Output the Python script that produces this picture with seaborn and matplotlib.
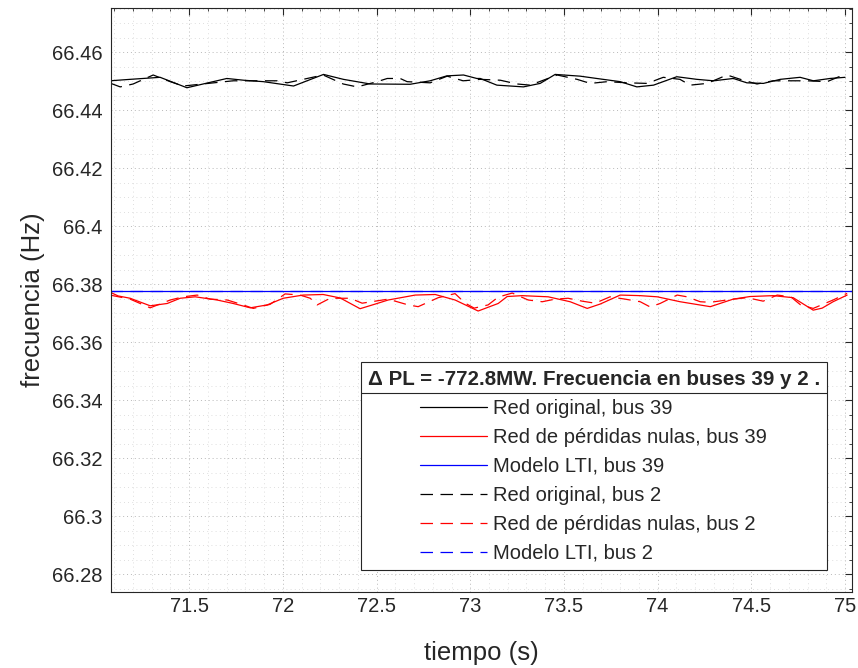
import numpy as np
import pandas as pd
import seaborn as sns
import matplotlib
matplotlib.use("Agg")
import matplotlib.pyplot as plt
from matplotlib.ticker import MultipleLocator, FuncFormatter
from matplotlib.lines import Line2D

# bus 39, red original (black solid)
t_orig39 = [71.078, 71.185, 71.345, 71.488, 71.701, 71.790, 71.896, 72.057, 72.217, 72.323,
            72.466, 72.679, 72.786, 72.875, 72.964, 73.035, 73.053, 73.142, 73.284, 73.373,
            73.453, 73.586, 73.675, 73.800, 73.889, 73.978, 74.102, 74.209, 74.298, 74.404,
            74.476, 74.564, 74.654, 74.760, 74.831, 74.920, 75.000]
f_orig39 = [66.4501, 66.4506, 66.4513, 66.4477, 66.4509, 66.4503, 66.4498, 66.4483, 66.4523, 66.4506,
            66.4490, 66.4489, 66.4501, 66.4518, 66.4521, 66.4509, 66.4509, 66.4486, 66.4480, 66.4492,
            66.4523, 66.4517, 66.4509, 66.4498, 66.4480, 66.4486, 66.4515, 66.4506, 66.4501, 66.4509,
            66.4494, 66.4492, 66.4506, 66.4513, 66.4501, 66.4509, 66.4513]

# bus 2, red original (black dashed)
t_orig2 = [71.078, 71.132, 71.201, 71.308, 71.399, 71.468, 71.735, 71.826, 71.970, 72.023,
           72.215, 72.322, 72.396, 72.503, 72.557, 72.626, 72.663, 72.786, 72.877, 72.962,
           73.053, 73.160, 73.250, 73.320, 73.464, 73.570, 73.640, 73.731, 73.837, 73.944,
           74.030, 74.119, 74.173, 74.264, 74.370, 74.456, 74.530, 74.616, 74.797, 74.904, 74.990]
f_orig2 = [66.4493, 66.4480, 66.4490, 66.4521, 66.4498, 66.4483, 66.4501, 66.4501, 66.4501, 66.4494,
           66.4521, 66.4490, 66.4480, 66.4498, 66.4509, 66.4509, 66.4498, 66.4494, 66.4517, 66.4501,
           66.4506, 66.4503, 66.4490, 66.4486, 66.4521, 66.4506, 66.4492, 66.4498, 66.4494, 66.4492,
           66.4513, 66.4506, 66.4486, 66.4492, 66.4521, 66.4503, 66.4490, 66.4501, 66.4501, 66.4498, 66.4521]

# bus 39, perdidas nulas (red solid)
t_nul39 = [71.078, 71.121, 71.185, 71.292, 71.383, 71.452, 71.532, 71.649, 71.735, 71.826,
           71.916, 72.002, 72.108, 72.215, 72.306, 72.412, 72.493, 72.562, 72.706, 72.813,
           72.919, 73.042, 73.149, 73.197, 73.277, 73.416, 73.533, 73.624, 73.693, 73.800,
           73.907, 73.998, 74.120, 74.281, 74.403, 74.493, 74.616, 74.723, 74.830, 74.878,
           74.936, 75.011]
f_nul39 = [66.3772, 66.3759, 66.3751, 66.3725, 66.3733, 66.3751, 66.3756, 66.3745, 66.3733, 66.3718,
           66.3728, 66.3751, 66.3762, 66.3764, 66.3752, 66.3715, 66.3731, 66.3745, 66.3762, 66.3764,
           66.3745, 66.3707, 66.3733, 66.3757, 66.3760, 66.3756, 66.3739, 66.3716, 66.3731, 66.3762,
           66.3760, 66.3756, 66.3739, 66.3722, 66.3748, 66.3757, 66.3760, 66.3753, 66.3710, 66.3717,
           66.3739, 66.3762]

# bus 2, perdidas nulas (red dashed)
t_nul2 = [71.078, 71.185, 71.292, 71.399, 71.468, 71.543, 71.612, 71.703, 71.788, 71.842,
          71.932, 72.012, 72.092, 72.146, 72.183, 72.252, 72.359, 72.423, 72.493, 72.562,
          72.669, 72.722, 72.829, 72.919, 72.973, 73.021, 73.095, 73.149, 73.224, 73.309,
          73.384, 73.453, 73.522, 73.597, 73.666, 73.746, 73.826, 73.907, 73.960, 74.013,
          74.104, 74.157, 74.227, 74.281, 74.403, 74.477, 74.563, 74.638, 74.710, 74.763,
          74.830, 74.936, 75.011]
f_nul2 = [66.3762, 66.3748, 66.3718, 66.3745, 66.3756, 66.3762, 66.3748, 66.3745, 66.3728, 66.3716,
          66.3730, 66.3766, 66.3762, 66.3751, 66.3728, 66.3751, 66.3751, 66.3734, 66.3741, 66.3748,
          66.3728, 66.3722, 66.3753, 66.3767, 66.3734, 66.3717, 66.3728, 66.3755, 66.3769, 66.3745,
          66.3739, 66.3748, 66.3751, 66.3741, 66.3734, 66.3756, 66.3748, 66.3739, 66.3721, 66.3733,
          66.3762, 66.3756, 66.3739, 66.3737, 66.3748, 66.3753, 66.3741, 66.3762, 66.3756, 66.3728,
          66.3716, 66.3745, 66.3768]

# LTI model (flat)
t_lti = [71.08, 75.04]
f_lti39 = [66.3776, 66.3776]
f_lti2 = [66.3777, 66.3777]

labels = ["Red original, bus 39", "Red de pérdidas nulas, bus 39", "Modelo LTI, bus 39",
          "Red original, bus 2", "Red de pérdidas nulas, bus 2", "Modelo LTI, bus 2"]
legend_title = "Δ PL = -772.8MW. Frecuencia en buses 39 y 2 ."

sns.set_style("white")
plt.rcParams["font.family"] = ["Liberation Sans", "DejaVu Sans"]

fig = plt.figure(figsize=(8.58, 6.68), dpi=100)
ax = fig.add_axes([0.1294, 0.1138, 0.8636, 0.8742])

dash = (0, (10, 6))
series = [
    (t_orig39, f_orig39, "black", "-"),
    (t_nul39, f_nul39, "red", "-"),
    (t_lti, f_lti39, "blue", "-"),
    (t_orig2, f_orig2, "black", dash),
    (t_nul2, f_nul2, "red", dash),
    (t_lti, f_lti2, "blue", dash),
]
for (t, f, c, ls), lab in zip(series, labels):
    sns.lineplot(x=t, y=f, color=c, linestyle=ls, lw=0.9, label=lab, ax=ax,
                 estimator=None, sort=False)

ax.set_xlim(71.083, 75.037)
ax.set_ylim(66.2738, 66.4752)
ax.xaxis.set_major_locator(MultipleLocator(0.5))
ax.xaxis.set_minor_locator(MultipleLocator(0.1))
ax.yaxis.set_major_locator(MultipleLocator(0.02))
ax.yaxis.set_minor_locator(MultipleLocator(0.005))
fmt = FuncFormatter(lambda v, p: "%g" % round(v, 4))
ax.xaxis.set_major_formatter(fmt)
ax.yaxis.set_major_formatter(fmt)

edge = "#262626"
for s in ax.spines.values():
    s.set_color(edge)
    s.set_linewidth(0.8)
ax.tick_params(which="both", direction="in", top=True, right=True, color=edge,
               labelcolor=edge, labelsize=14.5)
ax.tick_params(axis="y", which="major", pad=6)
ax.tick_params(which="major", length=5, width=0.8)
ax.tick_params(which="minor", length=2.5, width=0.6)
ax.grid(True, which="major", linestyle=(0, (1, 3)), color="#b8b8b8", lw=0.7)
ax.grid(True, which="minor", linestyle=(0, (1, 4)), color="#d4d4d4", lw=0.6)
ax.set_axisbelow(True)

ax.set_xlabel("tiempo (s)", fontsize=18.5, color=edge, labelpad=18)
ax.set_ylabel("frecuencia (Hz)", fontsize=18.5, color=edge, labelpad=5)

leg = ax.legend(loc="lower right", bbox_to_anchor=(0.9663, 0.0377), borderaxespad=0,
                fontsize=14.5, title=legend_title,
                title_fontproperties={"weight": "bold", "size": 14.8},
                frameon=True, fancybox=False, framealpha=1, edgecolor=edge,
                handlelength=3.33, handletextpad=0.3, labelspacing=0.5,
                alignment="center", borderpad=0.35)
leg.get_frame().set_linewidth(0.8)

# separator line under the legend title
fig.canvas.draw()
fb = leg.get_frame().get_window_extent()
tb = leg.get_title().get_window_extent()
yline = tb.y0 - 4
inv = fig.transFigure.inverted()
(x0, y0), (x1, _) = inv.transform([(fb.x0, yline), (fb.x1, yline)])
fig.add_artist(Line2D([x0, x1], [y0, y0], color=edge, lw=0.8, zorder=10))

fig.savefig("out.png", dpi=100)
